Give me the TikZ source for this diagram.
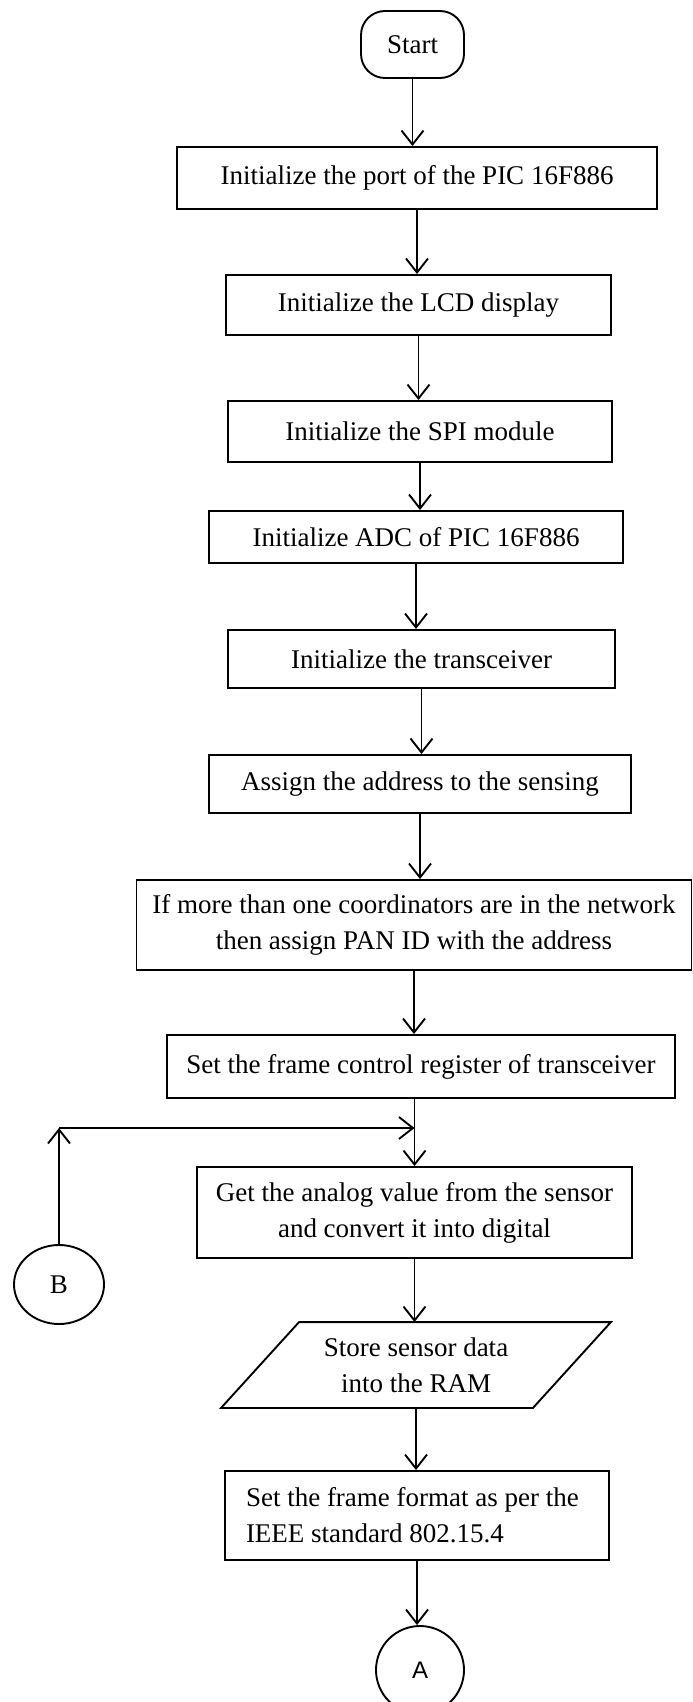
\documentclass[tikz,border=0pt]{standalone}
\usepackage{fontspec}
\setmainfont{Liberation Serif}
\newfontfamily\lettersans{Liberation Sans}
\usepackage{tikz}
\usetikzlibrary{arrows.meta}
\usetikzlibrary{shapes.geometric}

\begin{document}
\begin{tikzpicture}[x=1pt,y=-1pt,
        box/.style={draw,line width=1.9pt,inner sep=0pt,align=center,
            font=\fontsize{27}{36}\selectfont},
        arr/.style={line width=1.9pt,-{Straight Barb[length=14pt,width=22pt]}}]
            % Define the slant of the data block
            \def\sl{39pt}  % half the horizontal shift of the slanted sides

            \useasboundingbox (0,0) rectangle (693,1702);

            % Calculate the centres of the blocks
            \coordinate (C0) at (412.5, 44.5);
            \coordinate (C1) at (417, 178);
            \coordinate (C2) at (418.5, 305);
            \coordinate (C3) at (420, 431.5);
            \coordinate (C4) at (416, 537);
            \coordinate (C5) at (421.5, 659);
            \coordinate (C6) at (420, 784);
            \coordinate (C7) at (414, 925);
            \coordinate (C8) at (421, 1066.5);
            \coordinate (C9) at (414.5, 1212.5);
            \coordinate (C10) at (416, 1365);
            \coordinate (C11) at (417, 1515.5);
            \coordinate (CA) at (420, 1670);
            \coordinate (CB) at (59, 1284.5);

            % Draw the blocks
            \node[box,rounded corners=24pt,minimum width=103pt,minimum height=67pt] (N0) at (C0) {Start};
            \node[box,minimum width=480pt,minimum height=62pt] (N1) at (C1) {Initialize the port of the PIC 16F886};
            \node[box,minimum width=385pt,minimum height=60pt] (N2) at (C2) {Initialize the LCD display};
            \node[box,minimum width=384pt,minimum height=61pt] (N3) at (C3) {Initialize the SPI module};
            \node[box,minimum width=414pt,minimum height=52pt] (N4) at (C4) {Initialize ADC of PIC 16F886};
            \node[box,minimum width=387pt,minimum height=58pt] (N5) at (C5) {Initialize the transceiver};
            \node[box,minimum width=422pt,minimum height=58pt] (N6) at (C6) {Assign the address to the sensing};
            \node[box,minimum width=555pt,minimum height=90pt] (N7) at (C7) {If more than one coordinators are in the network\\then assign PAN ID with the address};
            \node[box,minimum width=508pt,minimum height=63pt] (N8) at (C8) {Set the frame control register of transceiver};
            \node[box,minimum width=435pt,minimum height=91pt] (N9) at (C9) {Get the analog value from the sensor\\and convert it into digital};
            \node[box,draw=none,minimum width=310pt,minimum height=84pt] (N10) at (C10) {Store sensor data\\into the RAM};
            \node[box,align=flush left,text width=342pt,inner xsep=21pt,minimum height=89pt] (N11) at (C11) {Set the frame format as per the\\IEEE standard 802.15.4};

            % Draw the connectors
            \node[box,circle,minimum size=88pt,font=\lettersans\fontsize{24}{28}\selectfont] (NA) at (CA) {A};
            \node[box,ellipse,minimum width=90pt,minimum height=79pt] (NB) at (CB) {B};

            % Draw the data block
            \draw[line width=1.9pt,line join=miter] ([xshift=-\sl]N10.south west) -- ([xshift=-\sl]N10.south east)
                -- ([xshift=\sl]N10.north east) -- ([xshift=\sl]N10.north west) -- cycle;

            % Draw the flow lines
            \draw[arr] (N0.south) -- (N0.south |- N1.north);
            \draw[arr] (N1.south) -- (N1.south |- N2.north);
            \draw[arr] (N2.south) -- (N2.south |- N3.north);
            \draw[arr] (N3.south) -- (N3.south |- N4.north);
            \draw[arr] (N4.south) -- (N4.south |- N5.north);
            \draw[arr] (N5.south) -- (N5.south |- N6.north);
            \draw[arr] (N6.south) -- (N6.south |- N7.north);
            \draw[arr] (N7.south) -- (N7.south |- N8.north);
            \draw[arr] (N9.north |- N8.south) -- (N9.north);
            \draw[arr] (N9.south) -- (N9.south |- N10.north);
            \draw[arr] (N10.south) -- (N10.south |- N11.north);
            \draw[arr] (N11.south) -- (N11.south |- NA.north);

            % Draw the return from B
            \coordinate (C12) at (59, 1128);
            \coordinate (C13) at (N9.north |- C12);
            \draw[arr] (NB.north) -- (C12);
            \draw[arr] (C12) -- (C13);

\end{tikzpicture}
\end{document}
